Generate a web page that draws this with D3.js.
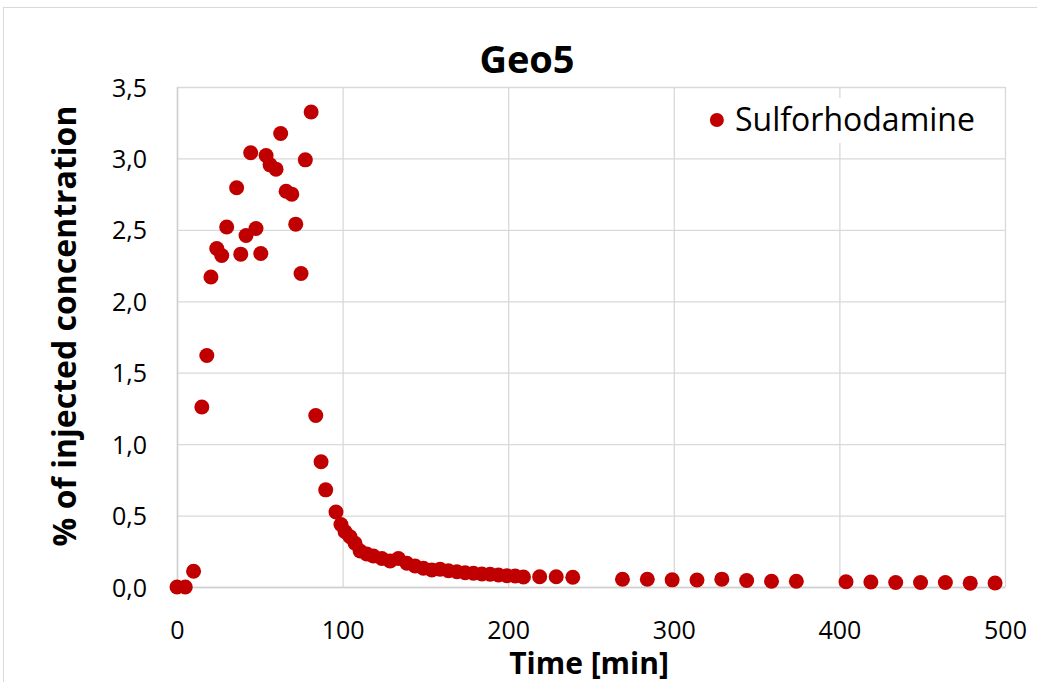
<!DOCTYPE html>
<html>
<head>
<meta charset="utf-8">
<script src="https://cdn.jsdelivr.net/npm/d3@7"></script>
<style>
  body { margin: 0; background: #fff; }
  svg { display: block; font-family: "Open Sans", Lato, sans-serif; }
</style>
</head>
<body>
<svg id="chart"></svg>
<script>
// Sulforhodamine breakthrough at Geo5
const times = [0, 5, 10, 15, 18, 20.5, 24, 27, 30, 36, 38.5, 41.7, 44.5, 47.7, 50.6, 53.8, 56.2, 59.8, 62.6, 65.9, 69.3, 71.7, 74.9, 77.5, 81,
  83.8, 87, 89.8, 96, 99, 101.5, 104.5, 107.5, 110.6, 114.6, 118.6, 123.7, 128.7, 133.7, 138.8, 143.8, 148.8, 153.9, 158.9,
  163.9, 169, 174, 179, 184.1, 189.1, 194.1, 199.2, 204.2, 209.2, 219, 229, 239, 269, 284, 299, 314, 329, 344, 359, 374,
  404, 419, 434, 449, 464, 479, 494];
const concentrations = [0.0, 0.0, 0.11, 1.26, 1.62, 2.17, 2.37, 2.32, 2.52, 2.795, 2.33, 2.46, 3.04, 2.51, 2.335, 3.02, 2.955, 2.925, 3.175, 2.77, 2.75, 2.54, 2.195, 2.99, 3.325,
  1.2, 0.877, 0.68, 0.525, 0.437, 0.387, 0.352, 0.306, 0.252, 0.231, 0.217, 0.2, 0.182, 0.2, 0.166, 0.147, 0.131, 0.119, 0.124,
  0.114, 0.107, 0.1, 0.096, 0.091, 0.089, 0.084, 0.079, 0.077, 0.07, 0.072, 0.072, 0.068, 0.054, 0.054, 0.05, 0.049, 0.055, 0.045, 0.04, 0.04,
  0.037, 0.035, 0.031, 0.031, 0.031, 0.027, 0.028];
const xTicks = [0, 100, 200, 300, 400, 500];
const yTicks = [0, 0.5, 1.0, 1.5, 2.0, 2.5, 3.0, 3.5];
const seriesName = "Sulforhodamine";

const W = 1037, H = 682;
const margin = {top: 87, right: 32, bottom: 95, left: 177};
const width = W - margin.left - margin.right;
const height = H - margin.top - margin.bottom;

const svg = d3.select("#chart").attr("width", W).attr("height", H);

// outer chart border (only top and left visible)
svg.append("rect")
  .attr("x", 3.5).attr("y", 7.5)
  .attr("width", 1200).attr("height", 1000)
  .attr("fill", "none").attr("stroke", "#d9d9d9");

const chart = svg.append("g")
  .attr("transform", `translate(${margin.left},${margin.top})`);

const xScale = d3.scaleLinear().domain([0, 500]).range([0, width]);
const yScale = d3.scaleLinear().domain([0, 3.5]).range([height, 0]);

const fmt = d => d3.format(".1f")(d).replace(".", ",");

// gridlines
chart.append("g")
  .attr("class", "grid")
  .call(d3.axisLeft(yScale).tickValues(yTicks).tickSize(-width).tickFormat(""))
  .call(g => g.select(".domain").remove());
chart.append("g")
  .attr("class", "grid")
  .attr("transform", `translate(0,${height})`)
  .call(d3.axisBottom(xScale).tickValues(xTicks).tickSize(-height).tickFormat(""))
  .call(g => g.select(".domain").remove());
chart.selectAll(".grid line").attr("stroke", "#d9d9d9").attr("stroke-width", 1.3);

// axes
const yAxisG = chart.append("g")
  .call(d3.axisLeft(yScale).tickValues(yTicks).tickSize(0).tickPadding(30).tickFormat(fmt));
const xAxisG = chart.append("g")
  .attr("transform", `translate(0,${height})`)
  .call(d3.axisBottom(xScale).tickValues(xTicks).tickSize(0).tickPadding(34));
[yAxisG, xAxisG].forEach(g => {
  g.select(".domain").attr("stroke", "#d0d0d0").attr("stroke-width", 1.5);
  g.selectAll("text").attr("font-size", 25).attr("fill", "#000").attr("font-family", "'Open Sans', sans-serif");
});
yAxisG.selectAll("text").attr("dy", "0.36em");

// legend background + entry
const legend = chart.append("g");
legend.append("rect")
  .attr("x", xScale(316)).attr("y", 11)
  .attr("width", xScale(496) - xScale(316)).attr("height", 45)
  .attr("fill", "#fff");
legend.append("circle")
  .attr("cx", xScale(326)).attr("cy", 33)
  .attr("r", 7).attr("fill", "#c00000");
legend.append("text")
  .attr("x", xScale(337)).attr("y", 44)
  .attr("font-size", 32).attr("fill", "#000")
  .text(seriesName);

// points
chart.selectAll("circle.pt")
  .data(times.map((t, i) => ({t, c: concentrations[i]})))
  .join("circle")
  .attr("class", "pt")
  .attr("cx", d => xScale(d.t))
  .attr("cy", d => yScale(d.c))
  .attr("r", 7.5)
  .attr("fill", "#c00000");

// titles
svg.append("text")
  .attr("x", 527).attr("y", 73)
  .attr("text-anchor", "middle")
  .attr("font-size", 38).attr("font-weight", "bold")
  .text("Geo5");
svg.append("text")
  .attr("x", 589).attr("y", 674)
  .attr("text-anchor", "middle")
  .attr("font-size", 30).attr("font-weight", "bold")
  .text("Time [min]");
svg.append("text")
  .attr("transform", `translate(76,${margin.top + height / 2 - 11}) rotate(-90)`)
  .attr("text-anchor", "middle")
  .attr("font-size", 32).attr("font-weight", "bold")
  .text("% of injected concentration");
</script>
</body>
</html>
